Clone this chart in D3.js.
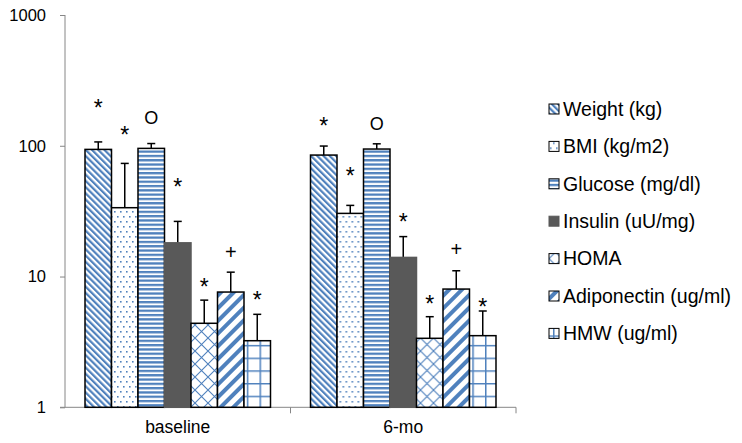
<!DOCTYPE html>
<html><head><meta charset="utf-8">
<script src="https://cdn.jsdelivr.net/npm/d3@7"></script>
<style>
body{margin:0;background:#fff;}
text{font-family:"Liberation Sans",Arial,sans-serif;fill:#000;}
</style></head>
<body>
<svg id="chart" width="742" height="443"></svg>
<script>
// ---- data ----
const categories = ["baseline", "6-mo"];
const series = ["Weight (kg)", "BMI (kg/m2)", "Glucose (mg/dl)", "Insulin (uU/mg)", "HOMA", "Adiponectin (ug/ml)", "HMW (ug/ml)"];
const baselineValues = [93.8, 33.6, 95.5, 18.1, 4.39, 7.61, 3.23];
const baselineErrTop = [107, 73.3, 104, 26.4, 6.6, 10.8, 5.14];
const sixMoValues = [84.9, 30.4, 94.4, 14.0, 3.37, 8.02, 3.53];
const sixMoErrTop = [99.5, 35, 103.5, 20.2, 4.93, 11.07, 5.45];
const markers = ["*", "*", "O", "*", "*", "+", "*"];
const baselineMarkerAt = [211, 133, 164, 53, 9.1, 15.3, 7.3];
const sixMoMarkerAt = [154, 64, 148, 28.6, 6.7, 16.1, 6.4];
const yTicks = [1, 10, 100, 1000];

const valuesByCat = [baselineValues, sixMoValues];
const errByCat = [baselineErrTop, sixMoErrTop];
const markByCat = [baselineMarkerAt, sixMoMarkerAt];

const svg = d3.select("#chart");
const blue = "#4f81bd";
const fills = ["url(#pWeight)", "url(#pBMI)", "url(#pGlucose)", "#595959", "url(#pHOMA)", "url(#pAdipo)", "url(#pHMW)"];

// ---- patterns ----
const defs = svg.append("defs");
function stripePattern(id, period, w, angle) {
  const p = defs.append("pattern").attr("id", id).attr("patternUnits", "userSpaceOnUse")
    .attr("width", period).attr("height", period).attr("patternTransform", `rotate(${angle})`);
  p.append("rect").attr("width", period).attr("height", period).attr("fill", "#fff");
  p.append("rect").attr("width", w).attr("height", period).attr("fill", blue);
}
stripePattern("pWeight", 4.4, 2.2, -45);
stripePattern("pAdipo", 9, 4, 45);
{
  const p = defs.append("pattern").attr("id", "pGlucose").attr("patternUnits", "userSpaceOnUse").attr("width", 8).attr("height", 4.3);
  p.append("rect").attr("width", 8).attr("height", 4.3).attr("fill", "#fff");
  p.append("rect").attr("width", 8).attr("height", 2.3).attr("fill", blue);
}
{
  const p = defs.append("pattern").attr("id", "pBMI").attr("patternUnits", "userSpaceOnUse").attr("width", 6).attr("height", 10);
  p.append("rect").attr("width", 6).attr("height", 10).attr("fill", "#fff");
  p.append("rect").attr("x", 1).attr("y", 1).attr("width", 1.6).attr("height", 1.6).attr("fill", blue);
  p.append("rect").attr("x", 4).attr("y", 6).attr("width", 1.6).attr("height", 1.6).attr("fill", blue);
}
{
  const s = 13;
  const p = defs.append("pattern").attr("id", "pHOMA").attr("patternUnits", "userSpaceOnUse").attr("width", s).attr("height", s);
  p.append("rect").attr("width", s).attr("height", s).attr("fill", "#fff");
  p.append("path").attr("d", `M0,0L${s},${s}M${s},0L0,${s}`).attr("stroke", blue).attr("stroke-width", 1.1);
}
{
  const s = 12.7;
  const p = defs.append("pattern").attr("id", "pHMW").attr("patternUnits", "userSpaceOnUse").attr("width", s).attr("height", s).attr("x", 4).attr("y", 2);
  p.append("rect").attr("width", s).attr("height", s).attr("fill", "#fff");
  p.append("path").attr("d", `M0.75,0V${s}M0,0.75H${s}`).attr("stroke", blue).attr("stroke-width", 1.5);
}

// ---- scales ----
const y = d3.scaleLog().domain([1, 1000]).range([407.3, 15]);
const x0 = d3.scaleBand().domain(categories).range([65, 516]);
const x1 = d3.scaleBand().domain(series).range([0, x0.bandwidth()]).paddingOuter(0.755);

// ---- axes ----
const axisColor = "#868686";
const yAxis = svg.append("g").attr("transform", "translate(65,0)")
  .call(d3.axisLeft(y).tickValues(yTicks).tickFormat(d3.format("d")).tickSize(5).tickPadding(14));
yAxis.selectAll("path,line").attr("stroke", axisColor);
yAxis.select(".domain").attr("d", `M0,${y(1000)}V${y(1)}`);
yAxis.selectAll("text").attr("font-size", 16.5).attr("font-family", "Liberation Sans, Arial, sans-serif").attr("fill", "#000");

const xAxis = svg.append("g").attr("transform", `translate(0,${y(1)})`);
xAxis.append("path").attr("d", `M60,0H516`).attr("stroke", axisColor).attr("fill", "none");
xAxis.selectAll("line.t").data([x0.range()[0] + x0.bandwidth(), x0.range()[1]]).enter().append("line")
  .attr("x1", d => d).attr("x2", d => d).attr("y1", 0).attr("y2", 6).attr("stroke", axisColor);
xAxis.selectAll("text").data(categories).enter().append("text")
  .attr("x", d => x0(d) + x0.bandwidth() / 2).attr("y", 26).attr("text-anchor", "middle")
  .attr("font-size", 17.5).text(d => d);

// ---- bars ----
categories.forEach((cat, ci) => {
  const g = svg.append("g").attr("transform", `translate(${x0(cat)},0)`);
  const rows = series.map((s, i) => ({ s, i, v: valuesByCat[ci][i], e: errByCat[ci][i], m: markByCat[ci][i], mk: markers[i] }));
  // error bars
  g.selectAll("line.err").data(rows).enter().append("line")
    .attr("x1", d => x1(d.s) + x1.bandwidth() / 2).attr("x2", d => x1(d.s) + x1.bandwidth() / 2)
    .attr("y1", d => y(d.v)).attr("y2", d => y(d.e)).attr("stroke", "#000").attr("stroke-width", 1.5);
  g.selectAll("line.cap").data(rows).enter().append("line")
    .attr("x1", d => x1(d.s) + x1.bandwidth() / 2 - 4).attr("x2", d => x1(d.s) + x1.bandwidth() / 2 + 4)
    .attr("y1", d => y(d.e)).attr("y2", d => y(d.e)).attr("stroke", "#000").attr("stroke-width", 1.5);
  g.selectAll("rect.bar").data(rows).enter().append("rect")
    .attr("x", d => x1(d.s)).attr("width", x1.bandwidth())
    .attr("y", d => y(d.v)).attr("height", d => y(1) - y(d.v))
    .attr("fill", d => fills[d.i])
    .attr("stroke", d => d.i === 3 ? "#595959" : "#000").attr("stroke-width", 1.5);
  const dyMap = { "*": "0.57em", "O": "0.36em", "+": "0.33em" };
  const fsMap = { "*": 23, "O": 18, "+": 20 };
  g.selectAll("text.mk").data(rows).enter().append("text")
    .attr("x", d => x1(d.s) + x1.bandwidth() / 2).attr("y", d => y(d.m))
    .attr("dy", d => dyMap[d.mk]).attr("text-anchor", "middle")
    .attr("font-size", d => fsMap[d.mk]).text(d => d.mk);
});

// ---- legend ----
const lg = svg.append("g").attr("transform", "translate(549,109)");
const li = lg.selectAll("g").data(series).enter().append("g")
  .attr("transform", (d, i) => `translate(0,${i * 37.4})`);
li.append("rect").attr("x", 0).attr("y", -5).attr("width", 10).attr("height", 10)
  .attr("fill", (d, i) => fills[i]).attr("stroke", (d, i) => i === 3 ? "#595959" : "#000").attr("stroke-width", 1);
li.append("text").attr("x", 14).attr("y", 0).attr("dy", "0.35em").attr("font-size", 19.5).text(d => d);
</script>
</body></html>
